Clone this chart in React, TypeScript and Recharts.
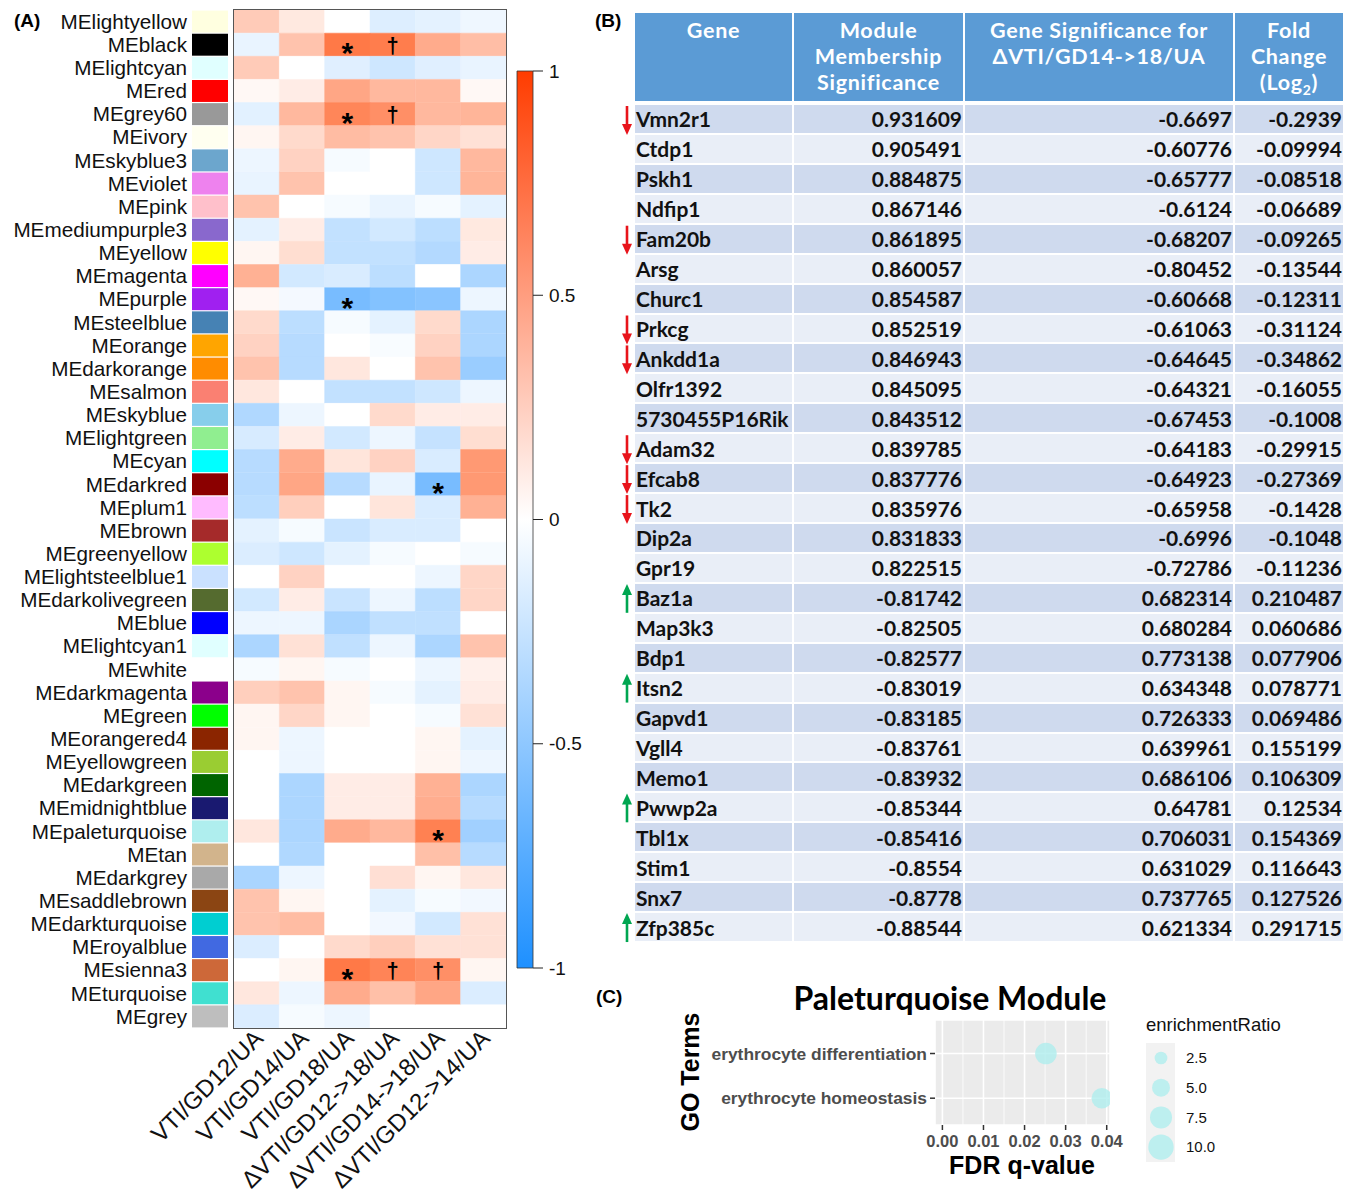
import React from 'react';
import {
  BarChart, Bar, XAxis, YAxis, Cell, LabelList,
  ScatterChart, Scatter, ZAxis, CartesianGrid, ReferenceLine,
} from 'recharts';

// ---------- Panel A data ----------
const modules = ['MElightyellow','MEblack','MElightcyan','MEred','MEgrey60','MEivory','MEskyblue3','MEviolet','MEpink','MEmediumpurple3','MEyellow','MEmagenta','MEpurple','MEsteelblue','MEorange','MEdarkorange','MEsalmon','MEskyblue','MElightgreen','MEcyan','MEdarkred','MEplum1','MEbrown','MEgreenyellow','MElightsteelblue1','MEdarkolivegreen','MEblue','MElightcyan1','MEwhite','MEdarkmagenta','MEgreen','MEorangered4','MEyellowgreen','MEdarkgreen','MEmidnightblue','MEpaleturquoise','MEtan','MEdarkgrey','MEsaddlebrown','MEdarkturquoise','MEroyalblue','MEsienna3','MEturquoise','MEgrey'];
const moduleColors = ['#FFFFE0','#000000','#E0FFFF','#FF0000','#999999','#FFFFF0','#6CA6CD','#EE82EE','#FFC0CB','#8968CD','#FFFF00','#FF00FF','#A020F0','#4682B4','#FFA500','#FF8C00','#FA8072','#87CEEB','#90EE90','#00FFFF','#8B0000','#FFBBFF','#A52A2A','#ADFF2F','#CAE1FF','#556B2F','#0000FF','#E0FFFF','#FFFFFF','#8B008B','#00FF00','#8B2500','#9ACD32','#006400','#191970','#AFEEEE','#D2B48C','#A9A9A9','#8B4513','#00CED1','#4169E1','#CD6839','#40E0D0','#BEBEBE'];
const traits = ['VTI/GD12/UA','VTI/GD14/UA','VTI/GD18/UA','ΔVTI/GD12->18/UA','ΔVTI/GD14->18/UA','ΔVTI/GD12->14/UA'];
const vtiGD12 = [0.28,-0.1,0.28,0.04,-0.13,0.05,-0.08,-0.1,0.32,-0.12, 0.05,0.42,0.04,0.2,0.24,0.32,0.13,-0.35,-0.18,-0.32, -0.32,-0.3,-0.12,-0.16,0,-0.2,-0.08,-0.37,-0.04,0.26, 0.05,0.05,0,0,0,0.13,0,-0.38,0.32,0.32, -0.16,0,0.13,-0.16];
const vtiGD14 = [0.12,0.32,0,0.1,0.38,0.2,0.24,0.32,0,0.1, 0.18,-0.2,-0.05,-0.3,-0.32,-0.32,0,-0.08,0.1,0.45, 0.48,0.26,-0.04,-0.22,0.24,0.1,-0.08,0.16,0.05,0.32, 0.22,-0.08,-0.08,-0.37,-0.37,-0.37,-0.35,-0.08,0.05,0.36, 0,0.05,-0.08,-0.04];
const vtiGD18 = [0,0.72,-0.14,0.48,0.65,0.36,-0.04,0,-0.04,-0.27, -0.27,-0.17,-0.6,-0.04,0,0.13,-0.27,0,-0.2,0.14, -0.32,0,-0.24,-0.12,0,-0.24,-0.38,-0.28,-0.04,0.05, 0.05,0,0,0.1,0.1,0.45,0,0,0,0, 0.2,0.72,0.45,-0.08];
const dVti12to18 = [-0.15,0.7,-0.22,0.38,0.6,0.32,0,0,-0.1,-0.2, -0.27,-0.3,-0.55,-0.12,-0.03,0,-0.27,0.2,-0.08,0.24, -0.1,0.14,-0.17,-0.04,0,-0.08,-0.28,-0.08,0,-0.04, 0,0,0,0.1,0.1,0.38,0,0.17,-0.12,-0.06, 0.26,0.66,0.34,0];
const dVti14to18 = [-0.12,0.45,-0.14,0.38,0.38,0.22,-0.22,-0.22,-0.04,-0.3, -0.34,0,-0.52,0.2,0.24,0.32,-0.22,0.1,-0.26,-0.17, -0.6,-0.17,-0.17,0,-0.08,-0.3,-0.28,-0.37,-0.08,-0.12, -0.04,0.05,0.05,0.42,0.44,0.68,0.34,0.05,-0.04,-0.2, 0.16,0.6,0.48,0];
const dVti12to14 = [-0.07,0.35,-0.1,0.04,0.4,0.16,0.38,0.4,-0.12,0.12, 0.1,-0.37,-0.08,-0.37,-0.37,-0.45,-0.08,0.1,0.18,0.55, 0.55,0.42,0,-0.04,0.22,0.22,0,0.32,0.08,0.1, 0.16,-0.12,-0.08,-0.37,-0.32,-0.42,-0.32,0.13,-0.06,0.16, 0.16,0.05,-0.16,0];
const traitValues = [vtiGD12, vtiGD14, vtiGD18, dVti12to18, dVti14to18, dVti12to14];
const sigMarks = [
  { module: 'MEblack', trait: 2, mark: '*' }, { module: 'MEblack', trait: 3, mark: '†' },
  { module: 'MEgrey60', trait: 2, mark: '*' }, { module: 'MEgrey60', trait: 3, mark: '†' },
  { module: 'MEpurple', trait: 2, mark: '*' },
  { module: 'MEdarkred', trait: 4, mark: '*' },
  { module: 'MEpaleturquoise', trait: 4, mark: '*' },
  { module: 'MEsienna3', trait: 2, mark: '*' }, { module: 'MEsienna3', trait: 3, mark: '†' }, { module: 'MEsienna3', trait: 4, mark: '†' },
];
const colorbarTicks = [-1, -0.5, 0, 0.5, 1];

// ---------- Panel B data ----------
const genes = ['Vmn2r1','Ctdp1','Pskh1','Ndfip1','Fam20b','Arsg','Churc1','Prkcg','Ankdd1a','Olfr1392','5730455P16Rik','Adam32','Efcab8','Tk2','Dip2a','Gpr19','Baz1a','Map3k3','Bdp1','Itsn2','Gapvd1','Vgll4','Memo1','Pwwp2a','Tbl1x','Stim1','Snx7','Zfp385c'];
const moduleMembership = [0.931609,0.905491,0.884875,0.867146,0.861895,0.860057,0.854587,0.852519,0.846943,0.845095,0.843512,0.839785,0.837776,0.835976,0.831833,0.822515,-0.81742,-0.82505,-0.82577,-0.83019,-0.83185,-0.83761,-0.83932,-0.85344,-0.85416,-0.8554,-0.8778,-0.88544];
const geneSignificance = [-0.6697,-0.60776,-0.65777,-0.6124,-0.68207,-0.80452,-0.60668,-0.61063,-0.64645,-0.64321,-0.67453,-0.64183,-0.64923,-0.65958,-0.6996,-0.72786,0.682314,0.680284,0.773138,0.634348,0.726333,0.639961,0.686106,0.64781,0.706031,0.631029,0.737765,0.621334];
const foldChange = [-0.2939,-0.09994,-0.08518,-0.06689,-0.09265,-0.13544,-0.12311,-0.31124,-0.34862,-0.16055,-0.1008,-0.29915,-0.27369,-0.1428,-0.1048,-0.11236,0.210487,0.060686,0.077906,0.078771,0.069486,0.155199,0.106309,0.12534,0.154369,0.116643,0.127526,0.291715];
const downGenes = ['Vmn2r1','Fam20b','Prkcg','Ankdd1a','Adam32','Efcab8','Tk2'];
const upGenes = ['Baz1a','Itsn2','Pwwp2a','Zfp385c'];

// ---------- Panel C data ----------
const goTerms = ['erythrocyte differentiation', 'erythrocyte homeostasis'];
const fdrValues = [0.0252, 0.0388];
const enrichmentRatios = [7.2, 6.5];
const fdrTicks = [0, 0.01, 0.02, 0.03, 0.04];
const fdrMinor = [0.005, 0.015, 0.025, 0.035];
const legendRatios = [2.5, 5.0, 7.5, 10.0];

// ---------- helpers ----------
const POS = [255, 69, 0];
const NEG = [30, 144, 255];
function corrColor(v: number): string {
  const t = Math.min(1, Math.abs(v));
  const end = v >= 0 ? POS : NEG;
  const c = end.map((e) => Math.round(255 + (e - 255) * t));
  return `rgb(${c[0]},${c[1]},${c[2]})`;
}

const ARIAL = '"Liberation Sans", Arial, sans-serif';
const CALIBRI = 'Lato, "Open Sans", sans-serif';

const heatRows = modules.map((m, i) => {
  const row: any = { name: m };
  traits.forEach((_, j) => {
    row['u' + j] = 1;
    row['v' + j] = traitValues[j][i];
  });
  return row;
});

const HEAT_TOP = 10;
const HEAT_BOTTOM = 1028;
const ROW_H = (HEAT_BOTTOM - HEAT_TOP) / modules.length;

const RowTick = (props: any) => {
  const { x, y, payload } = props;
  const idx = modules.indexOf(payload.value);
  return (
    <g>
      <rect x={x - 42} y={y - ROW_H / 2 + 0.6} width={36} height={ROW_H - 1.2} fill={moduleColors[idx]} />
      <text x={x - 47} y={y} dy="0.35em" textAnchor="end" fontSize={20.7} fontFamily={ARIAL} fill="#111">
        {payload.value}
      </text>
    </g>
  );
};

const ColTick = (props: any) => {
  const { x, y, payload } = props;
  const label = traits[Math.floor(payload.value)];
  const ax = x + 8;
  const ay = y + 12;
  return (
    <text x={ax} y={ay} transform={`rotate(-45 ${ax} ${ay})`} textAnchor="end" fontSize={24} fontFamily={ARIAL} fill="#111">
      {label}
    </text>
  );
};

function markRenderer(j: number) {
  return (p: any) => {
    const { x, y, width, height, value } = p;
    const m = sigMarks.find((s) => s.module === value && s.trait === j);
    if (!m) return null;
    return (
      <text x={x + width / 2} y={y + height / 2} dy={m.mark === '*' ? '0.62em' : '0.36em'} textAnchor="middle"
        fontSize={m.mark === '*' ? 30 : 22} fontWeight={700} fontFamily={ARIAL} fill="#000">
        {m.mark}
      </text>
    );
  };
}

function Heatmap() {
  return (
    <div style={{ position: 'absolute', left: 0, top: 0 }}>
      <BarChart width={520} height={1201} data={heatRows} layout="vertical"
        margin={{ top: HEAT_TOP, right: 14, bottom: 0, left: 0 }} barCategoryGap={0}>
        <XAxis type="number" domain={[0, 6]} ticks={[0.5, 1.5, 2.5, 3.5, 4.5, 5.5]} interval={0}
          height={1201 - HEAT_BOTTOM} tickSize={0} tickMargin={0} axisLine={false} tickLine={false} tick={<ColTick />} />
        <YAxis type="category" dataKey="name" width={234} interval={0} tickSize={0} tickMargin={0}
          axisLine={false} tickLine={false} tick={<RowTick />} />
        {traits.map((t, j) => (
          <Bar key={t} dataKey={'u' + j} stackId="h" isAnimationActive={false}>
            {heatRows.map((r, i) => (
              <Cell key={i} fill={corrColor(r['v' + j])} stroke={corrColor(r['v' + j])} strokeWidth={0.5} />
            ))}
            <LabelList dataKey="name" content={markRenderer(j)} />
          </Bar>
        ))}
      </BarChart>
      <div style={{ position: 'absolute', left: 233, top: HEAT_TOP - 1, width: 272, height: HEAT_BOTTOM - HEAT_TOP, border: '1px solid #555', pointerEvents: 'none' }} />
    </div>
  );
}

function ColorBar() {
  return (
    <div style={{ position: 'absolute', left: 505, top: 60 }}>
      <BarChart width={100} height={920} data={[{ name: 'r', range: [-1, 1] }]}
        margin={{ top: 11, right: 12, bottom: 12, left: 12 }} barCategoryGap={0}>
        <defs>
          <linearGradient id="cbGrad" x1="0" y1="0" x2="0" y2="1">
            <stop offset="0%" stopColor="rgb(255,60,0)" />
            <stop offset="50%" stopColor="#FFFFFF" />
            <stop offset="100%" stopColor="rgb(30,144,255)" />
          </linearGradient>
        </defs>
        <XAxis dataKey="name" hide />
        <YAxis orientation="right" type="number" domain={[-1, 1]} ticks={colorbarTicks} width={60}
          axisLine={false} tickSize={10} tickMargin={6} tickLine={{ stroke: '#222' }}
          tick={{ fontSize: 19, fontFamily: ARIAL, fill: '#111' }} />
        <Bar dataKey="range" fill="url(#cbGrad)" stroke="#333" strokeWidth={0.8} isAnimationActive={false} />
      </BarChart>
    </div>
  );
}

function GeneTable() {
  const cols = [157, 169, 268, 108];
  const left = 635;
  const headerTop = 13;
  const bodyTop = 105;
  const pitch = 29.93;
  const cellStyle = (w: number, align: 'left' | 'right'): React.CSSProperties => ({
    width: w, height: pitch - 2, display: 'flex', alignItems: 'center',
    justifyContent: align === 'left' ? 'flex-start' : 'flex-end', padding: '0 1px', boxSizing: 'border-box',
    fontFamily: CALIBRI, fontWeight: 700, fontSize: 21, color: '#111', whiteSpace: 'nowrap',
  });
  const headerStyle = (w: number): React.CSSProperties => ({
    width: w, height: 88, background: '#5B9BD5', color: '#fff', fontFamily: CALIBRI, fontWeight: 700,
    fontSize: 21.5, letterSpacing: 0.7, lineHeight: '26px', textAlign: 'center', paddingTop: 4, boxSizing: 'border-box',
    whiteSpace: 'nowrap',
  });
  return (
    <>
      <div style={{ position: 'absolute', left, top: headerTop, display: 'flex', gap: 2 }}>
        <div style={headerStyle(cols[0])}>Gene</div>
        <div style={headerStyle(cols[1])}>Module<br />Membership<br />Significance</div>
        <div style={headerStyle(cols[2])}>Gene Significance for<br />ΔVTI/GD14-&gt;18/UA</div>
        <div style={headerStyle(cols[3])}>Fold<br />Change<br />(Log<sub style={{ fontSize: 14, lineHeight: 0 }}>2</sub>)</div>
      </div>
      {genes.map((g, i) => {
        const bg = i % 2 === 0 ? '#CFDAEE' : '#E9EEF7';
        return (
          <div key={g} style={{ position: 'absolute', left, top: bodyTop + i * pitch, display: 'flex', gap: 2 }}>
            <div style={{ ...cellStyle(cols[0], 'left'), background: bg }}>{g}</div>
            <div style={{ ...cellStyle(cols[1], 'right'), background: bg }}>{String(moduleMembership[i])}</div>
            <div style={{ ...cellStyle(cols[2], 'right'), background: bg }}>{String(geneSignificance[i])}</div>
            <div style={{ ...cellStyle(cols[3], 'right'), background: bg }}>{String(foldChange[i])}</div>
          </div>
        );
      })}
      <svg style={{ position: 'absolute', left: 618, top: 0 }} width={18} height={960}>
        {genes.map((g, i) => {
          const top = bodyTop + i * pitch;
          const bottom = top + pitch;
          if (downGenes.includes(g)) {
            return (
              <g key={g}>
                <line x1={9} x2={9} y1={top + 1} y2={bottom - 9} stroke="#E8141B" strokeWidth={2.6} />
                <polygon points={`${4},${bottom - 11} ${14},${bottom - 11} ${9},${bottom}`} fill="#E8141B" />
              </g>
            );
          }
          if (upGenes.includes(g)) {
            return (
              <g key={g}>
                <line x1={9} x2={9} y1={top + 9} y2={bottom - 1} stroke="#00A651" strokeWidth={2.6} />
                <polygon points={`${4},${top + 11} ${14},${top + 11} ${9},${top}`} fill="#00A651" />
              </g>
            );
          }
          return null;
        })}
      </svg>
    </>
  );
}

const Z_RANGE: [number, number] = [0, 507];
const Z_DOMAIN: [number, number] = [0, 10];
function legendRadius(v: number) {
  const area = Z_RANGE[0] + ((v - Z_DOMAIN[0]) / (Z_DOMAIN[1] - Z_DOMAIN[0])) * (Z_RANGE[1] - Z_RANGE[0]);
  return Math.sqrt(area / Math.PI);
}

function GoPlot() {
  const data = goTerms.map((t, i) => ({ term: t, row: goTerms.length - i, fdr: fdrValues[i], ratio: enrichmentRatios[i] }));
  const termForRow = (v: number) => goTerms[goTerms.length - v] ?? '';
  return (
    <>
      <div style={{ position: 'absolute', left: 680, top: 985 }}>
        <ScatterChart width={470} height={200} margin={{ top: 35, right: 40, bottom: 0, left: 0 }}>
          <CartesianGrid fill="#EBEBEB" stroke="#FFFFFF" strokeWidth={1.6} />
          {fdrMinor.map((m) => (
            <ReferenceLine key={m} x={m} stroke="#FFFFFF" strokeWidth={0.8} />
          ))}
          <XAxis type="number" dataKey="fdr" domain={[-0.0018, 0.0408]} ticks={fdrTicks} allowDataOverflow
            tickFormatter={(v: number) => v.toFixed(2)} height={60} axisLine={false} tickSize={5} tickMargin={5}
            tickLine={{ stroke: '#333', strokeWidth: 1.5 }} interval={0}
            tick={{ fontSize: 16.5, fontWeight: 700, fill: '#4D4D4D', fontFamily: ARIAL }} />
          <YAxis type="number" dataKey="row" domain={[0.4, 2.75]} ticks={[1, 2]} tickFormatter={termForRow}
            width={255} axisLine={false} tickSize={5} tickMargin={3} interval={0}
            tickLine={{ stroke: '#333', strokeWidth: 1.5 }}
            tick={{ fontSize: 17.4, fontWeight: 700, fill: '#4D4D4D', fontFamily: ARIAL }} />
          <ZAxis type="number" dataKey="ratio" domain={Z_DOMAIN} range={Z_RANGE} />
          <Scatter data={data} fill="#AFEEEE" fillOpacity={0.8} isAnimationActive={false} />
        </ScatterChart>
      </div>
      <div style={{ position: 'absolute', left: 0, top: 0, width: 1360, pointerEvents: 'none' }}>
        <div style={{ position: 'absolute', left: 700, top: 978, width: 500, textAlign: 'center', fontFamily: CALIBRI, fontWeight: 700, fontSize: 32, color: '#000' }}>
          Paleturquoise Module
        </div>
        <div style={{ position: 'absolute', left: 872, top: 1151, width: 300, textAlign: 'center', fontFamily: ARIAL, fontWeight: 700, fontSize: 25, color: '#000' }}>
          FDR q-value
        </div>
        <div style={{ position: 'absolute', left: 690, top: 1072, width: 0, height: 0 }}>
          <div style={{ position: 'absolute', left: -100, top: -15, width: 200, textAlign: 'center', transform: 'rotate(-90deg)', fontFamily: ARIAL, fontWeight: 700, fontSize: 25, color: '#000', lineHeight: '30px' }}>
            GO Terms
          </div>
        </div>
      </div>
      <svg style={{ position: 'absolute', left: 1140, top: 1010 }} width={200} height={160}>
        <text x={6} y={21} fontSize={18.5} fontFamily={ARIAL} fill="#111">enrichmentRatio</text>
        <rect x={6} y={33} width={29} height={119} fill="#F2F2F2" />
        {legendRatios.map((v, i) => (
          <g key={v}>
            <circle cx={21} cy={48 + i * 29.7} r={legendRadius(v)} fill="#AFEEEE" fillOpacity={0.8} />
            <text x={46} y={48 + i * 29.7} dy="0.35em" fontSize={15} fontFamily={ARIAL} fill="#111">{v.toFixed(1)}</text>
          </g>
        ))}
      </svg>
    </>
  );
}

export default function App() {
  return (
    <div style={{ position: 'absolute', left: 0, top: 0, width: 1360, height: 1201, background: '#fff', overflow: 'hidden' }}>
      <Heatmap />
      <ColorBar />
      <GeneTable />
      <GoPlot />
      <div style={{ position: 'absolute', left: 14, top: 10, fontFamily: ARIAL, fontWeight: 700, fontSize: 19 }}>(A)</div>
      <div style={{ position: 'absolute', left: 595, top: 10, fontFamily: ARIAL, fontWeight: 700, fontSize: 19 }}>(B)</div>
      <div style={{ position: 'absolute', left: 596, top: 986, fontFamily: ARIAL, fontWeight: 700, fontSize: 19 }}>(C)</div>
    </div>
  );
}
